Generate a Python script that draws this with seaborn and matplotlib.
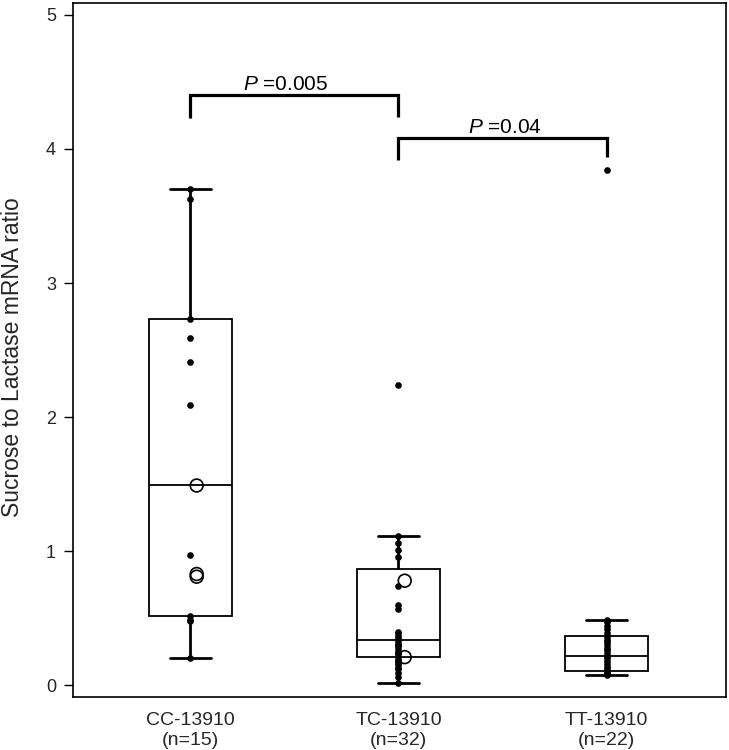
import numpy as np
import pandas as pd
import matplotlib.pyplot as plt
import seaborn as sns

# Groups and sample sizes
groups = ["CC-13910", "TC-13910", "TT-13910"]
group_n = [15, 32, 22]

# Box summaries: lower whisker, Q1, median, Q3, upper whisker
box_low = [0.20, 0.02, 0.08]
box_q1 = [0.52, 0.21, 0.11]
box_med = [1.49, 0.34, 0.22]
box_q3 = [2.73, 0.865, 0.37]
box_high = [3.70, 1.11, 0.49]

# Individual values (filled dots)
cc_filled = [3.70, 3.63, 2.73, 2.59, 2.41, 2.09, 0.97, 0.52, 0.49, 0.48, 0.20]
tc_filled = [2.24, 1.11, 1.06, 1.01, 0.96, 0.74, 0.60, 0.57, 0.40, 0.39, 0.37,
             0.35, 0.33, 0.31, 0.30, 0.29, 0.27, 0.25, 0.24, 0.23, 0.21, 0.19,
             0.18, 0.17, 0.15, 0.13, 0.12, 0.09, 0.06, 0.02]
tt_filled = [3.84, 0.49, 0.47, 0.44, 0.42, 0.39, 0.36, 0.34, 0.32, 0.30, 0.28,
             0.26, 0.24, 0.22, 0.20, 0.18, 0.16, 0.14, 0.12, 0.10, 0.09, 0.08]

# Open circles
cc_open = [1.49, 0.83, 0.81]
tc_open = [0.78, 0.21]
tt_open = []

# Significance brackets
bracket_pairs = [(0, 1), (1, 2)]
bracket_top = [4.40, 4.08]
bracket_left_end = [4.23, 3.92]
bracket_right_end = [4.24, 3.94]
p_values = ["0.005", "0.04"]
p_text_x = [0.46, 1.51]

sns.set_theme(style="ticks")
plt.rcParams["font.family"] = ["Liberation Sans", "DejaVu Sans"]
plt.rcParams["mathtext.fontset"] = "custom"
plt.rcParams["mathtext.rm"] = "Liberation Sans"
plt.rcParams["mathtext.it"] = "Liberation Sans:italic"

box_df = pd.DataFrame({
    "pos": np.repeat(np.arange(len(groups)), 5),
    "value": np.column_stack([box_low, box_q1, box_med, box_q3, box_high]).ravel(),
})

filled = [cc_filled, tc_filled, tt_filled]
opened = [cc_open, tc_open, tt_open]
pts_df = pd.DataFrame({
    "pos": np.concatenate([[i] * len(v) for i, v in enumerate(filled)]),
    "value": np.concatenate(filled),
})
open_df = pd.DataFrame({
    "pos": np.concatenate([[i] * len(v) for i, v in enumerate(opened)]),
    "value": np.concatenate([v for v in opened if len(v)]),
})

fig, ax = plt.subplots(figsize=(7.29, 7.5), dpi=100)
fig.subplots_adjust(left=0.0997, right=0.9955, bottom=0.0707, top=0.996)

sns.boxplot(data=box_df, x="pos", y="value", orient="x", native_scale=True,
            width=0.4, color="white", linecolor="black", linewidth=1.3,
            showfliers=False,
            whiskerprops={"linewidth": 2.0}, capprops={"linewidth": 2.0},
            medianprops={"linewidth": 1.3}, ax=ax)

sns.stripplot(data=pts_df, x="pos", y="value", orient="x", native_scale=True,
              jitter=False, color="black", size=4.8, linewidth=0, zorder=4, ax=ax)

ax.scatter(open_df["pos"] + 0.03, open_df["value"], s=85, marker="o",
           facecolors="none", edgecolors="black", linewidths=1.2, zorder=5)

for i, (a, b) in enumerate(bracket_pairs):
    ax.plot([a, a, b, b],
            [bracket_left_end[i], bracket_top[i], bracket_top[i], bracket_right_end[i]],
            color="black", lw=2.3, solid_joinstyle="miter", solid_capstyle="butt")
    ax.text(p_text_x[i], bracket_top[i] + 0.04, r"$P$ =" + p_values[i],
            ha="center", va="baseline", fontsize=15, color="black")

ax.set_xlim(-0.566, 2.573)
ax.set_ylim(-0.087, 5.088)
ax.set_yticks([0, 1, 2, 3, 4, 5])
ax.set_xticks(range(len(groups)))
ax.set_xticklabels([f"{g}\n(n={n})" for g, n in zip(groups, group_n)],
                   fontsize=14, linespacing=1.2)
ax.set_xlabel("")
ax.set_ylabel("Sucrose to Lactase mRNA ratio", fontsize=16.5)
ax.yaxis.set_label_coords(-0.074, 0.49)

ax.tick_params(axis="y", length=6.5, width=1.0, labelsize=13, pad=5.5, color="black")
ax.tick_params(axis="x", length=0, pad=11)
for s in ax.spines.values():
    s.set_linewidth(1.2)
    s.set_color("black")

plt.savefig("out.png", dpi=100)
